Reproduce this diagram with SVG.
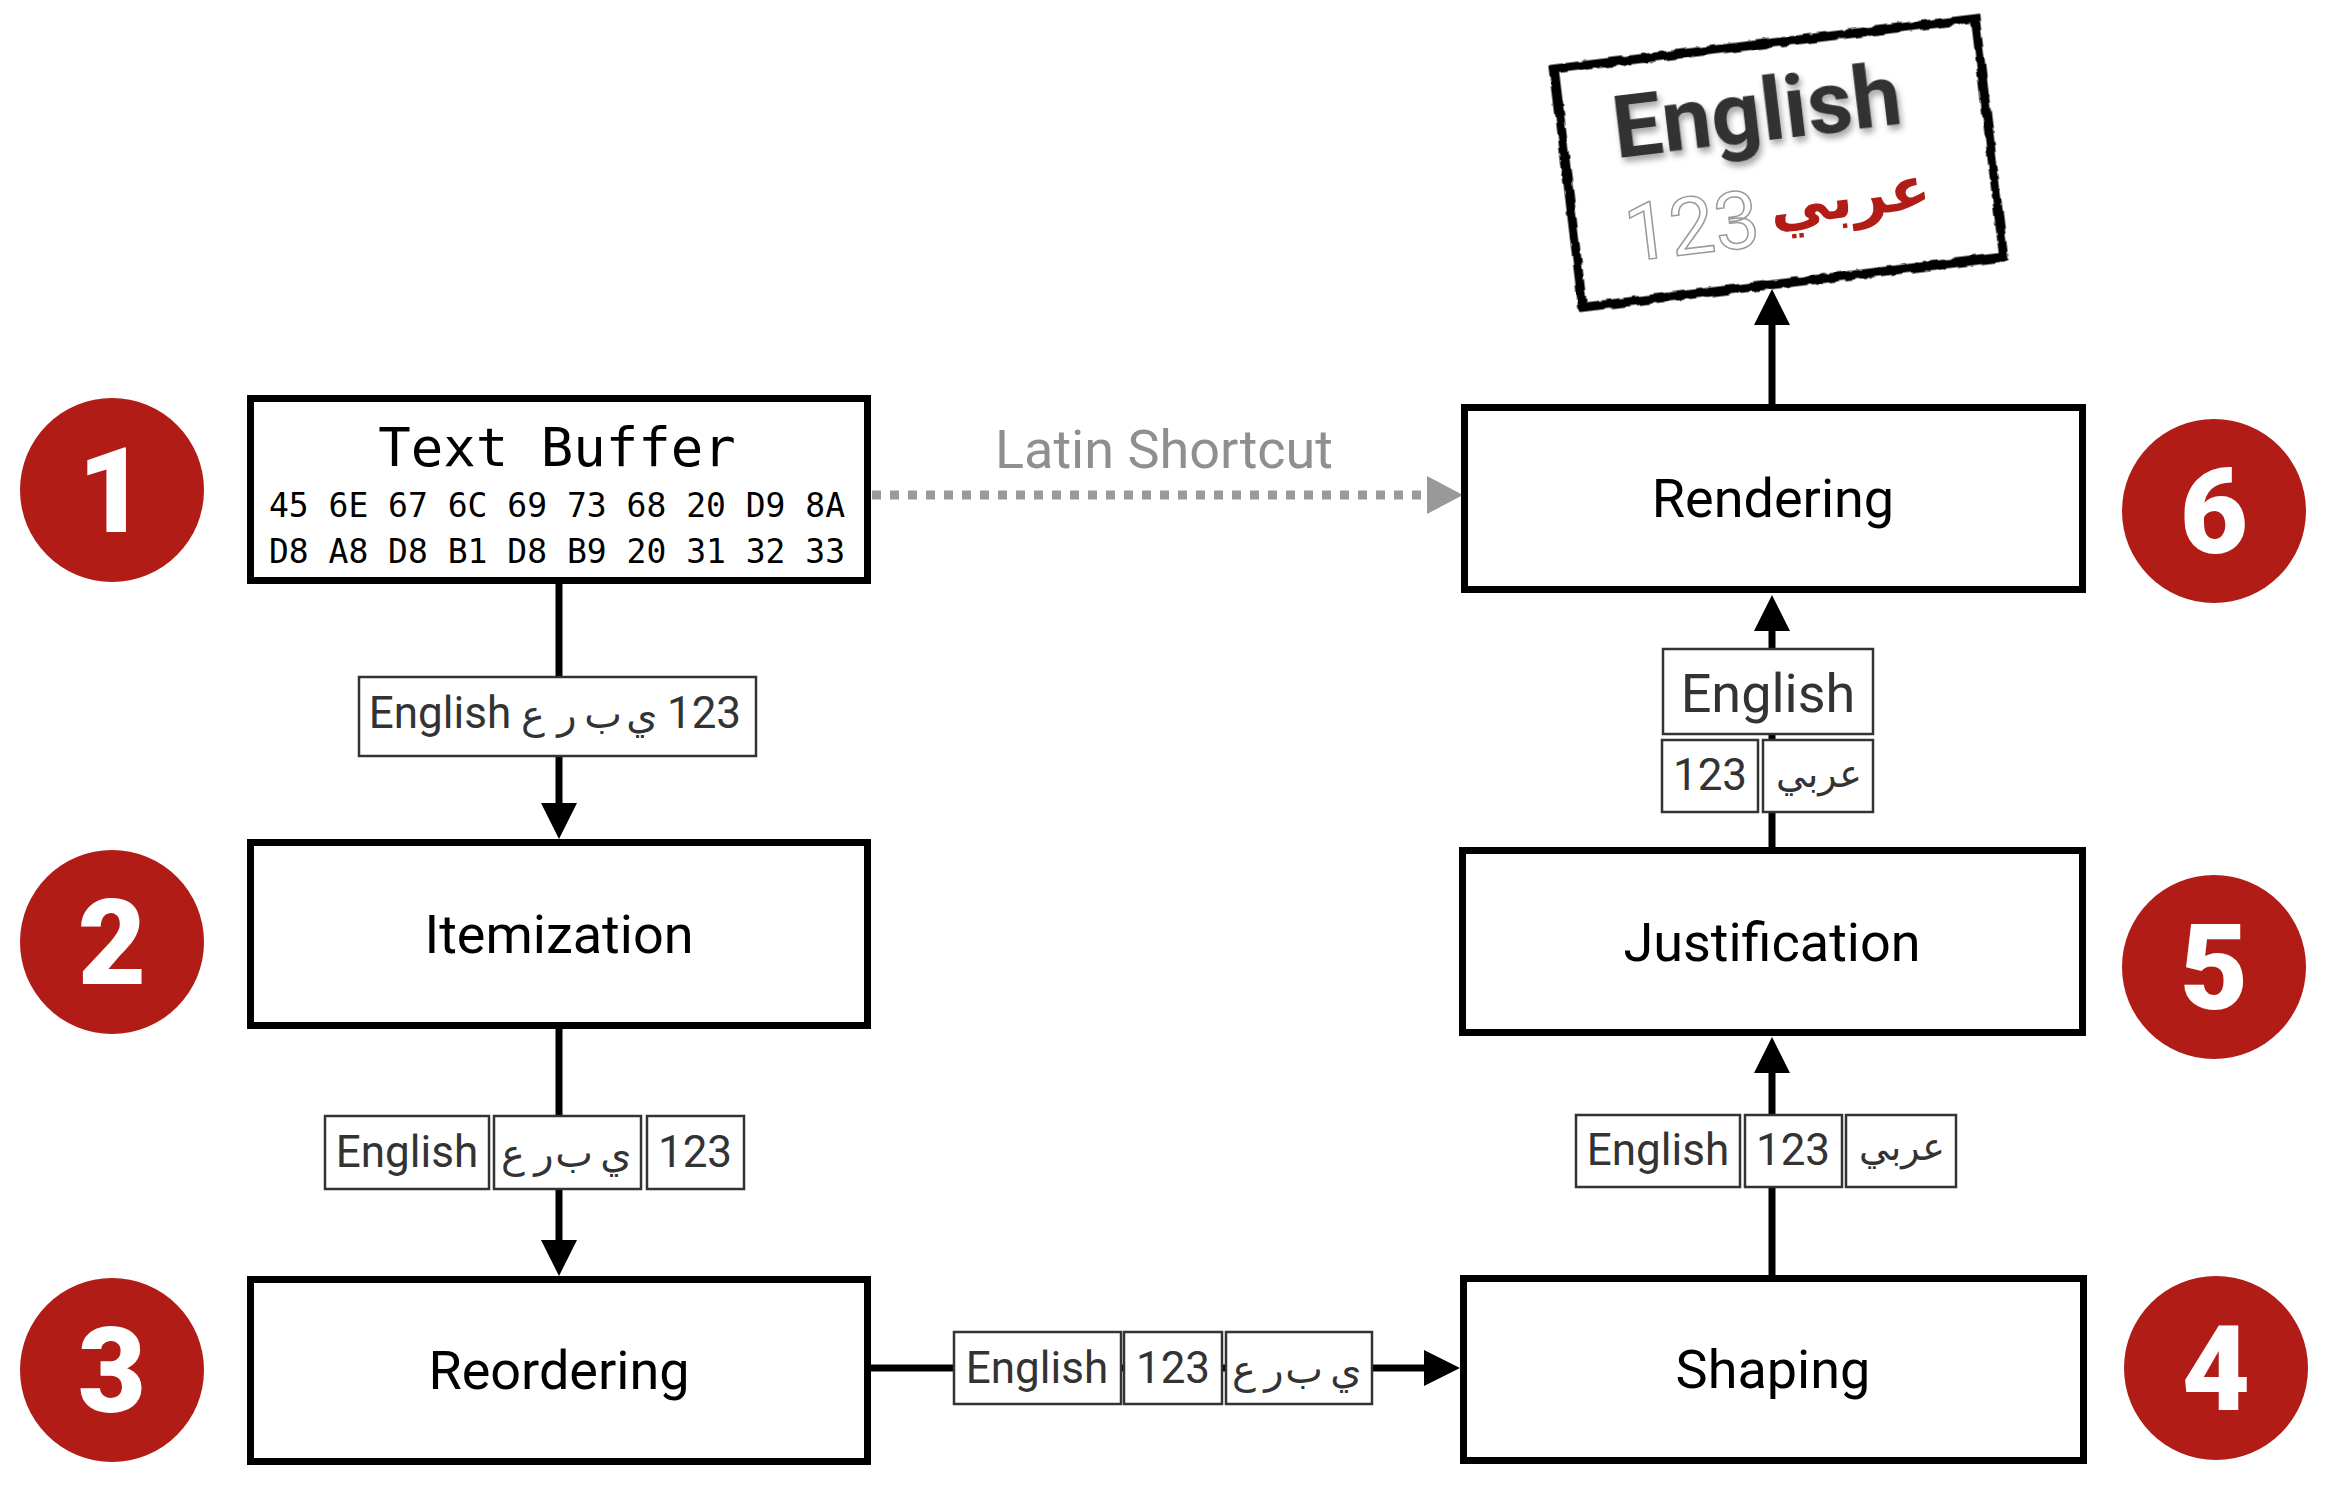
<svg xmlns="http://www.w3.org/2000/svg" width="2326" height="1490" viewBox="0 0 2326 1490">
<defs>
<style>
.node{fill:#fff;stroke:#000;stroke-width:7}
.nt{font-family:Roboto,"Liberation Sans",sans-serif;font-size:54px;fill:#000;text-anchor:middle}
.mono{font-family:"DejaVu Sans Mono","Liberation Mono",monospace;fill:#000;text-anchor:middle}
.circ{fill:#B21C17}
.num{font-family:Roboto,"Liberation Sans",sans-serif;font-weight:900;font-size:118px;fill:#fff;text-anchor:middle}
.lb{fill:#fff;stroke:#333;stroke-width:2.5}
.lt{font-family:Roboto,"DejaVu Sans",sans-serif;font-size:44px;fill:#333;text-anchor:middle}
.ar{font-family:"DejaVu Sans","Noto Sans",sans-serif;font-size:40px;fill:#333;text-anchor:middle}
.conn{stroke:#000;stroke-width:7;fill:none}
.dot{stroke:#999;stroke-width:9;fill:none;stroke-dasharray:9 9}
</style>
<marker id="ah" markerUnits="userSpaceOnUse" markerWidth="36" markerHeight="36" refX="0" refY="18" orient="auto" viewBox="0 0 36 36"><path d="M0,0 L36,18 L0,36 Z" fill="#000"/></marker>
<marker id="ahg" markerUnits="userSpaceOnUse" markerWidth="36" markerHeight="38" refX="0" refY="19" orient="auto" viewBox="0 0 36 38"><path d="M0,0 L36,19 L0,38 Z" fill="#999"/></marker>
<filter id="rough" x="-10%" y="-10%" width="120%" height="120%"><feTurbulence type="fractalNoise" baseFrequency="0.09" numOctaves="2" seed="3" result="n"/><feDisplacementMap in="SourceGraphic" in2="n" scale="5" xChannelSelector="R" yChannelSelector="G"/></filter>
<filter id="shadow" x="-10%" y="-20%" width="120%" height="150%"><feDropShadow dx="2" dy="5" stdDeviation="3" flood-color="#000" flood-opacity="0.35"/></filter>
</defs>
<rect width="2326" height="1490" fill="#fff"/>

<g id="connectors">
<line class="conn" x1="559" y1="584" x2="559" y2="803" marker-end="url(#ah)"/>
<line class="conn" x1="559" y1="1029" x2="559" y2="1240" marker-end="url(#ah)"/>
<line class="conn" x1="871" y1="1368" x2="1424" y2="1368" marker-end="url(#ah)"/>
<line class="conn" x1="1772" y1="1276" x2="1772" y2="1073" marker-end="url(#ah)"/>
<line class="conn" x1="1772" y1="849" x2="1772" y2="631" marker-end="url(#ah)"/>
<line class="conn" x1="1772" y1="406" x2="1772" y2="325" marker-end="url(#ah)"/>
<line class="dot" x1="872" y1="495" x2="1427" y2="495" marker-end="url(#ahg)"/>
<text x="1164" y="468" style="font-family:Roboto,'Liberation Sans',sans-serif;font-size:54px;fill:#8f8f8f;text-anchor:middle">Latin Shortcut</text>
</g>

<g id="labels">
<g id="label1">
<rect class="lb" x="359" y="677" width="397" height="79"/>
<text class="lt" x="440" y="728">English</text>
<text class="ar" y="728"><tspan x="533">ع</tspan><tspan x="567">ر</tspan><tspan x="603">ب</tspan><tspan x="642">ي</tspan></text>
<text class="lt" x="704" y="728">123</text>
</g>
<g id="label2">
<rect class="lb" x="325" y="1116" width="164" height="73"/>
<text class="lt" x="407" y="1167">English</text>
<rect class="lb" x="494" y="1116" width="147" height="73"/>
<text class="ar" y="1167"><tspan x="513">ع</tspan><tspan x="544">ر</tspan><tspan x="574">ب</tspan><tspan x="616">ي</tspan></text>
<rect class="lb" x="647" y="1116" width="97" height="73"/>
<text class="lt" x="695" y="1167">123</text>
</g>
<g id="label3">
<rect class="lb" x="954" y="1332" width="167" height="72"/>
<text class="lt" x="1037" y="1383">English</text>
<rect class="lb" x="1124" y="1332" width="98" height="72"/>
<text class="lt" x="1173" y="1383">123</text>
<rect class="lb" x="1226" y="1332" width="146" height="72"/>
<text class="ar" y="1383"><tspan x="1244">ع</tspan><tspan x="1274">ر</tspan><tspan x="1304">ب</tspan><tspan x="1346">ي</tspan></text>
</g>
<g id="label4">
<rect class="lb" x="1576" y="1115" width="164" height="72"/>
<text class="lt" x="1658" y="1165">English</text>
<rect class="lb" x="1745" y="1115" width="97" height="72"/>
<text class="lt" x="1793" y="1165">123</text>
<rect class="lb" x="1846" y="1115" width="110" height="72"/>
<text class="ar" x="1902" y="1160" style="font-size:38px">عربي</text>
</g>
<g id="label5">
<rect class="lb" x="1663" y="649" width="210" height="85"/>
<text class="lt" x="1768" y="712" style="font-size:54px">English</text>
<rect class="lb" x="1662" y="740" width="96" height="72"/>
<text class="lt" x="1710" y="790">123</text>
<rect class="lb" x="1763" y="740" width="110" height="72"/>
<text class="ar" x="1819" y="787" style="font-size:38px">عربي</text>
</g>
</g>

<g id="node-textbuffer">
<rect class="node" x="250.5" y="398.5" width="617" height="182"/>
<text class="mono" x="557" y="466" style="font-size:54px">Text Buffer</text>
<text class="mono" x="557" y="517" style="font-size:33px">45 6E 67 6C 69 73 68 20 D9 8A</text>
<text class="mono" x="557" y="563" style="font-size:33px">D8 A8 D8 B1 D8 B9 20 31 32 33</text>
</g>
<g id="node-itemization">
<rect class="node" x="250.5" y="842.5" width="617" height="183"/>
<text class="nt" x="559" y="953">Itemization</text>
</g>
<g id="node-reordering">
<rect class="node" x="250.5" y="1279.5" width="617" height="182"/>
<text class="nt" x="559" y="1389">Reordering</text>
</g>
<g id="node-shaping">
<rect class="node" x="1463.5" y="1278.5" width="620" height="182"/>
<text class="nt" x="1773" y="1388">Shaping</text>
</g>
<g id="node-justification">
<rect class="node" x="1462.5" y="850.5" width="620" height="182"/>
<text class="nt" x="1772" y="961">Justification</text>
</g>
<g id="node-rendering">
<rect class="node" x="1464.5" y="407.5" width="618" height="182"/>
<text class="nt" x="1773" y="517">Rendering</text>
</g>

<g id="output">
<g transform="translate(1779,163) rotate(-6.8)">
<rect x="-212" y="-120" width="424" height="240" fill="#fff"/>
<rect x="-212" y="-120" width="424" height="240" fill="none" stroke="#000" stroke-width="9" filter="url(#rough)"/>
<rect x="-214" y="-118" width="427" height="236" fill="none" stroke="#000" stroke-width="2" stroke-dasharray="40 6 20 4" filter="url(#rough)"/>
<text x="-16" y="-24" filter="url(#shadow)" style="font-family:Roboto,'Liberation Sans',sans-serif;font-weight:bold;font-size:88px;fill:#333;text-anchor:middle">English</text>
<text x="-94" y="80" style="font-family:Roboto,'Liberation Sans',sans-serif;font-size:80px;fill:#fff;stroke:#999;stroke-width:1.5;text-anchor:middle">123</text>
<text x="66" y="62" style="font-family:'DejaVu Sans',sans-serif;font-weight:bold;font-size:60px;fill:#B21C17;text-anchor:middle">عربي</text>
</g>
</g>

<g id="badges">
<g id="badge1"><circle class="circ" cx="112" cy="490" r="92"/><text class="num" x="112" y="532">1</text></g>
<g id="badge2"><circle class="circ" cx="112" cy="942" r="92"/><text class="num" x="112" y="984">2</text></g>
<g id="badge3"><circle class="circ" cx="112" cy="1370" r="92"/><text class="num" x="112" y="1412">3</text></g>
<g id="badge4"><circle class="circ" cx="2216" cy="1368" r="92"/><text class="num" x="2216" y="1410">4</text></g>
<g id="badge5"><circle class="circ" cx="2214" cy="967" r="92"/><text class="num" x="2214" y="1009">5</text></g>
<g id="badge6"><circle class="circ" cx="2214" cy="511" r="92"/><text class="num" x="2214" y="553">6</text></g>
</g>
</svg>
